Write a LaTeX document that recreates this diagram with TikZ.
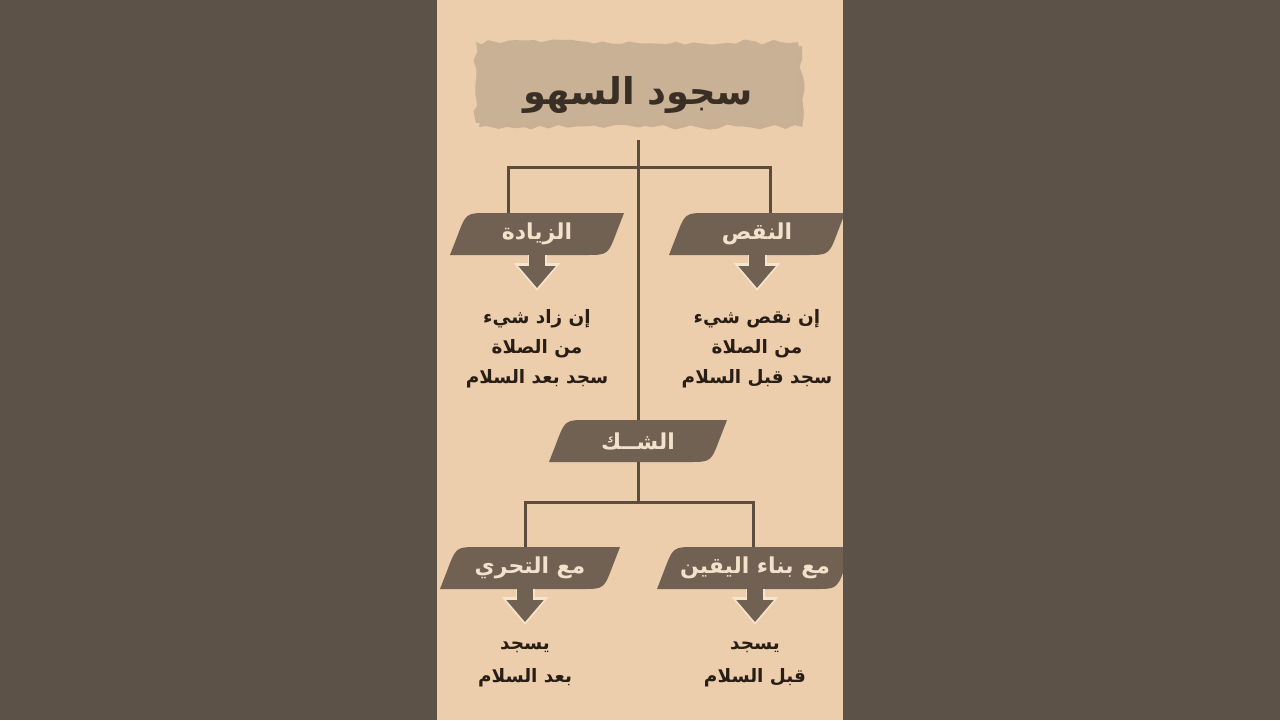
\documentclass[tikz,border=0pt]{standalone}
\usepackage{fontspec}
\newfontfamily\arabicfont[Script=Arabic]{DejaVu Sans}
\TeXXeTstate=1
\usetikzlibrary{arrows.meta,decorations.pathmorphing}
\definecolor{sidec}{RGB}{92,82,71}
\definecolor{panelc}{RGB}{236,205,172}
\definecolor{paperc}{RGB}{201,177,150}
\definecolor{tagc}{RGB}{112,97,82}
\definecolor{tagtextc}{RGB}{242,226,204}
\definecolor{linec}{RGB}{92,76,60}
\definecolor{bodyc}{RGB}{40,30,22}
\definecolor{titlec}{RGB}{58,47,36}
\definecolor{rimc}{RGB}{246,228,204}

\begin{document}
\begin{tikzpicture}[x=0.02cm,y=-0.02cm,
  link/.style={draw=linec,line width=0.06cm},
  tag/.style={font=\arabicfont\bfseries\fontsize{12.5}{14}\selectfont,text=tagtextc,minimum height=0.84cm,inner sep=0pt},
  body/.style={font=\arabicfont\bfseries\fontsize{10.5}{17}\selectfont,text=bodyc,align=center,anchor=north,inner sep=0pt},
  arrowrim/.style={draw=rimc,line width=0.38cm,-{Triangle[width=0.9cm,length=0.56cm]}},
  arrowbody/.style={draw=tagc,line width=0.32cm,-{Triangle[width=0.72cm,length=0.44cm]}}]
\useasboundingbox (0,0) rectangle (1280,720);
\fill[sidec] (0,0) rectangle (1280,720);
\fill[panelc] (437,0) rectangle (843,720);

\begin{scope}
\clip (437,0) rectangle (843,720);
\pgfmathsetseed{5}
\fill[paperc!60!black,opacity=0.3,decorate,decoration={random steps,segment length=5pt,amplitude=1.5pt}] (479,46) rectangle (802,127);
\fill[paperc,decorate,decoration={random steps,segment length=5pt,amplitude=1.5pt}] (476,42) rectangle (798,123);
\node[font=\arabicfont\bfseries\fontsize{21}{24}\selectfont,text=titlec,minimum height=1.8cm] (title) at (638,95) {\beginR سجود السهو\endR};

\foreach \nm/\x/\y/\a/\lbl in {zyada/537/234/79/الزيادة,naqs/757/234/80/النقص,shak/638/441/81/الشــك,tahari/530/568/82/مع التحري,yaqin/755/568/90/مع بناء اليقين}{
  \fill[tagc] (\x-\a-8,\y+21) -- (\x-\a-1,\y+3) .. controls (\x-\a+8,\y-21) .. (\x-\a+30,\y-21) -- (\x+\a+8,\y-21) -- (\x+\a+1,\y-3) .. controls (\x+\a-8,\y+21) .. (\x+\a-30,\y+21) -- cycle;
  \node[tag] (\nm) at (\x,\y) {\beginR\lbl\endR};
}

\node[body] (zyadaTxt) at (537,309) {\beginR إن زاد شيء\endR\\\beginR من الصلاة\endR\\\beginR سجد بعد السلام\endR};
\node[body] (naqsTxt) at (757,309) {\beginR إن نقص شيء\endR\\\beginR من الصلاة\endR\\\beginR سجد قبل السلام\endR};
\node[body] (tahariTxt) at (525,641) {\beginR يسجد\endR\\[2pt]\beginR بعد السلام\endR};
\node[body] (yaqinTxt) at (755,641) {\beginR يسجد\endR\\[2pt]\beginR قبل السلام\endR};

\coordinate (topsplit) at (638,167);
\coordinate (botsplit) at (638,502);
\draw[link] (title.south) -- (shak.north);
\draw[link] (shak.south) -- (botsplit);
\draw[link] ([xshift=-0.58cm]zyada.north) |- (topsplit) -| ([xshift=0.26cm]naqs.north);
\draw[link] ([xshift=-0.1cm]tahari.north) |- (botsplit) -| ([xshift=-0.04cm]yaqin.north);

\foreach \b/\tx/\gap in {zyada/zyadaTxt/0.36,naqs/naqsTxt/0.36,tahari/tahariTxt/0.32,yaqin/yaqinTxt/0.32}{
  \draw[arrowrim,shorten >=\gap cm] (\b.south -| \tx.north) -- (\tx.north);
  \draw[arrowbody,shorten >=\gap cm+0.06cm] (\b.south -| \tx.north) -- (\tx.north);
}
\end{scope}
\end{tikzpicture}
\end{document}
